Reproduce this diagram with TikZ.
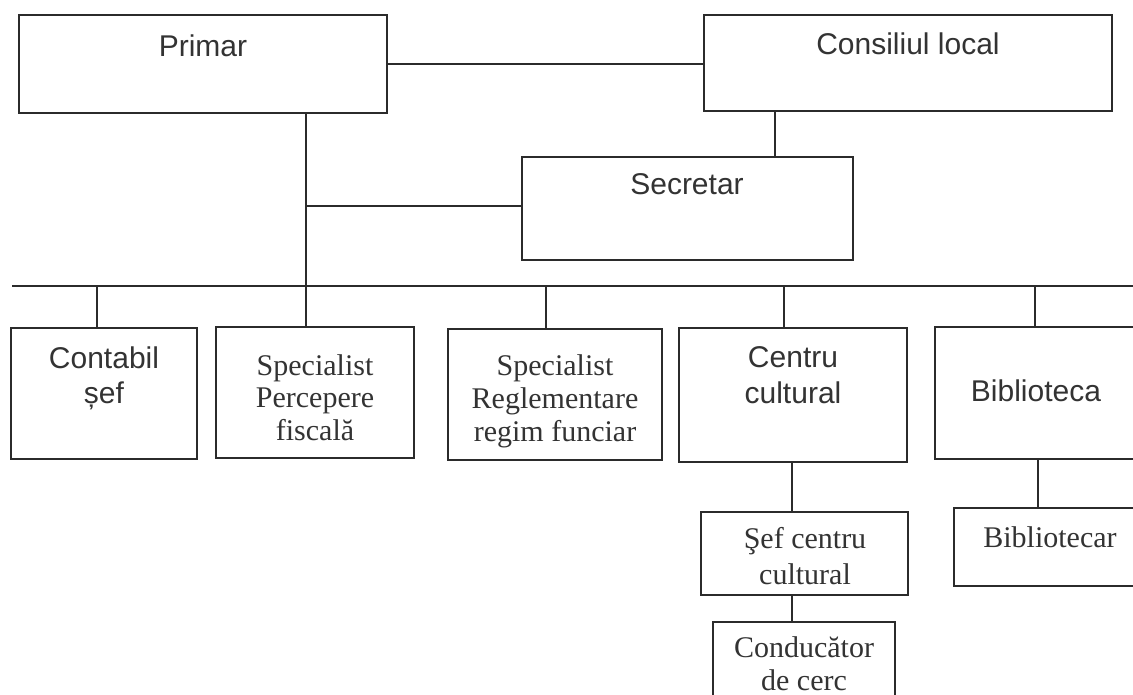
\documentclass[tikz,border=0pt]{standalone}
\usepackage{fontspec}
\setmainfont{Liberation Serif}
\newfontfamily\sansf{Liberation Sans}
\newfontfamily\seriff{Liberation Serif}
\definecolor{ln}{HTML}{2B2B2B}
\definecolor{tx}{HTML}{333333}
\tikzset{
 bx/.style={draw=ln, line width=2pt, rectangle, inner sep=0pt, outer sep=0pt, anchor=north west},
 st/.style={font=\sansf\fontsize{30}{34}\selectfont, text=tx, inner sep=0pt, anchor=base},
 sr/.style={font=\seriff\fontsize{30}{33}\selectfont, text=tx, inner sep=0pt, anchor=base},
 cn/.style={draw=ln, line width=2pt},
}
\begin{document}
\begin{tikzpicture}[x=1pt,y=-1pt]
\useasboundingbox (0,0) rectangle (1133,695);
\fill[white] (0,0) rectangle (1133,695);

% boxes
\node[bx, minimum width=368pt, minimum height=98pt] (primar) at (19,15) {};
\node[bx, minimum width=408pt, minimum height=96pt] (consiliul) at (704,15) {};
\node[bx, minimum width=331pt, minimum height=103pt] (secretar) at (522,157) {};
\node[bx, minimum width=186pt, minimum height=131pt] (contabil) at (11,328) {};
\node[bx, minimum width=198pt, minimum height=131pt] (percepere) at (216,327) {};
\node[bx, minimum width=214pt, minimum height=131pt] (reglem) at (448,329) {};
\node[bx, minimum width=228pt, minimum height=134pt] (centru) at (679,328) {};
\node[bx, minimum width=205pt, minimum height=132pt] (biblioteca) at (935,327) {};
\node[bx, minimum width=207pt, minimum height=83pt] (sef) at (701,512) {};
\node[bx, minimum width=182pt, minimum height=90pt] (conducator) at (713,622) {};
\node[bx, minimum width=190pt, minimum height=78pt] (bibliotecar) at (954,508) {};

% texts
\node[st] (tPrimar) at (203,57) {Primar};
\node[st] (tConsiliul) at (908,55) {Consiliul local};
\node[st] (tSecretar) at (687,195) {Secretar};
\node[st] (tContabil1) at (104,368) {Contabil};
\node[st] (tContabil2) at (104,403) {șef};
\node[sr] (tPerc1) at (315,375) {Specialist};
\node[sr] (tPerc2) at (315,407) {Percepere};
\node[sr] (tPerc3) at (315,440) {fiscală};
\node[sr] (tRegl1) at (555,375) {Specialist};
\node[sr] (tRegl2) at (555,408) {Reglementare};
\node[sr] (tRegl3) at (555,441) {regim funciar};
\node[st] (tCentru1) at (793,367) {Centru};
\node[st] (tCentru2) at (793,403) {cultural};
\node[st] (tBiblioteca) at (1036,401) {Biblioteca};
\node[sr] (tSef1) at (805,548) {Şef centru};
\node[sr] (tSef2) at (805,584) {cultural};
\node[sr] (tCond1) at (804,657) {Conducător};
\node[sr] (tCond2) at (804,690) {de cerc};
\node[sr] (tBibliotecar) at (1050,547) {Bibliotecar};

% helper coordinates
\coordinate (busL) at (12,286);
\coordinate (busR) at (1140,286);
\coordinate (pv) at (306,0);
\coordinate (cv) at (775,0);
\coordinate (d1) at (97,0);
\coordinate (d3) at (546,0);
\coordinate (d4) at (784,0);
\coordinate (d5) at (1035,0);
\coordinate (lv) at (792,0);
\coordinate (sy) at (0,206);

% connectors
\draw[cn] (primar.east) -- (primar.east -| consiliul.west);
\draw[cn] (consiliul.south -| cv) -- (secretar.north -| cv);
\draw[cn] (primar.south -| pv) -- (percepere.north -| pv);
\draw[cn] (pv |- sy) -- (secretar.west |- sy);
\draw[cn] (busL) -- (busR);
\draw[cn] (d1 |- busL) -- (contabil.north -| d1);
\draw[cn] (d3 |- busL) -- (reglem.north -| d3);
\draw[cn] (d4 |- busL) -- (centru.north -| d4);
\draw[cn] (d5 |- busL) -- (biblioteca.north -| d5);
\draw[cn] (centru.south -| lv) -- (sef.north -| lv);
\draw[cn] (sef.south -| lv) -- (conducator.north -| lv);
\draw[cn] (biblioteca.south) -- (bibliotecar.north -| biblioteca.south);
\end{tikzpicture}
\end{document}
